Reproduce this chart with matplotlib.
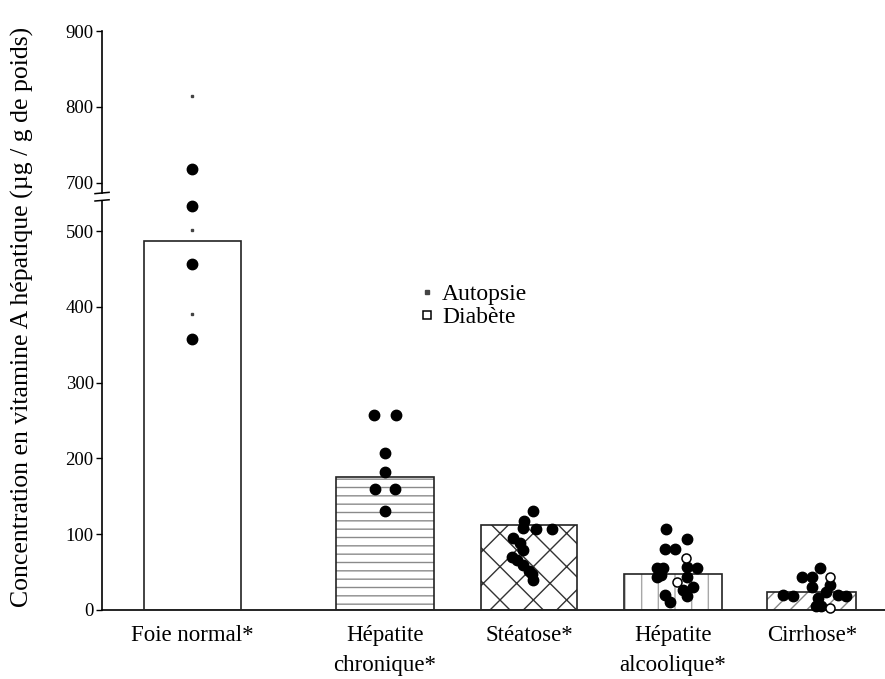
import matplotlib
matplotlib.use('Agg')
import matplotlib.pyplot as plt
from matplotlib.lines import Line2D

plt.rcParams['font.family'] = ['Liberation Serif', 'DejaVu Serif']
plt.rcParams['hatch.linewidth'] = 1.0

# --- data ---
categories = ['Foie normal*', 'Hépatite\nchronique*', 'Stéatose*',
              'Hépatite\nalcoolique*', 'Cirrhose*']
means = [487, 175, 112, 48, 24]

# big filled dots
dots_val = [
    [718, 533, 456, 357],
    [257, 257, 207, 182, 159, 159, 130],
    [131, 118, 108, 107, 107, 95, 88, 79, 70, 66, 60, 52, 47, 40],
    [107, 94, 81, 81, 55, 55, 57, 56, 44, 46, 44, 31, 26, 20, 18, 11],
    [56, 44, 44, 31, 33, 24, 20, 18, 16, 20, 18, 5, 5],
]
dots_dx = [
    [0, 0, 0, 0],
    [-0.075, 0.075, 0, 0, -0.07, 0.07, 0],
    [0.03, -0.035, -0.04, 0.05, 0.16, -0.11, -0.06, -0.04, -0.12, -0.08, -0.04, 0.0, 0.02, 0.03],
    [-0.045, 0.095, -0.055, 0.015, -0.11, -0.07, 0.095, 0.165, -0.11, -0.08, 0.095, 0.14, 0.07, -0.055, 0.095, -0.02],
    [0.055, -0.07, 0.0, 0.0, 0.125, 0.1, -0.2, -0.13, 0.04, 0.18, 0.24, 0.03, 0.065],
]
# small dots (autopsie)
autopsie_val = [[815, 501, 390], [], [], [], []]
# open circles (diabete)
diabete_val = [[], [], [], [69, 37], [44, 3]]
diabete_dx = [[], [], [], [0.09, 0.025], [0.125, 0.125]]

# layout
x_pos = [0, 1.337, 2.337, 3.337, 4.302]
widths = [0.674, 0.68, 0.67, 0.68, 0.62]
hatches = [None, '--', 'x', '|', '//']
hatch_cols = ['k', '#8a8a8a', '#333333', '#a8a8a8', '#888888']
lo_top = 539.6
hi_bottom = 686.8

fig = plt.figure(figsize=(8.85, 6.79), dpi=100)
ax_lo = fig.add_axes([0.1153, 69 / 679, 0.8847, 409 / 679])
ax_hi = fig.add_axes([0.1153, 486 / 679, 0.8847, 162 / 679])

for ax in (ax_lo, ax_hi):
    ax.set_xlim(-0.628, 4.81)
    for s in ('top', 'right'):
        ax.spines[s].set_visible(False)
    ax.spines['left'].set_linewidth(1.2)
    ax.tick_params(axis='y', direction='out', length=4, width=1, labelsize=13.5, pad=2)

ax_lo.set_ylim(0, lo_top)
ax_hi.set_ylim(hi_bottom, 900)
ax_lo.set_yticks([0, 100, 200, 300, 400, 500])
ax_hi.set_yticks([700, 800, 900])
ax_hi.spines['bottom'].set_visible(False)
ax_hi.set_xticks([])
ax_lo.spines['bottom'].set_linewidth(1.2)

# bars: hatch first, outline on top
for i in range(len(categories)):
    if hatches[i]:
        ax_lo.bar(x_pos[i], means[i], width=widths[i], color='white',
                  edgecolor=hatch_cols[i], hatch=hatches[i], linewidth=0, zorder=2)
    ax_lo.bar(x_pos[i], means[i], width=widths[i], fill=False,
              edgecolor='#222222', linewidth=1.2, zorder=3)

ax_lo.set_xticks(x_pos)
ax_lo.set_xticklabels(categories, fontsize=16.5, linespacing=1.55)
ax_lo.tick_params(axis='x', length=0, pad=11)


def put(vals, dxs, i, **kw):
    for v, d in zip(vals, dxs):
        ax = ax_hi if v > lo_top else ax_lo
        ax.plot(x_pos[i] + d, v, ls='', clip_on=False, zorder=5, **kw)


for i in range(len(categories)):
    put(dots_val[i], dots_dx[i], i, marker='o', color='black', markersize=7.5)
    put(autopsie_val[i], [0] * len(autopsie_val[i]), i, marker='s', color='#444444', markersize=2)
    put(diabete_val[i], diabete_dx[i], i, marker='o', mfc='white', mec='black',
        markersize=6.5, mew=1.1)

# axis break marks
ax_hi.plot([-0.009, 0.009], [-0.004, 0.004], transform=ax_hi.transAxes,
           color='k', lw=1.1, clip_on=False)
ax_lo.plot([-0.009, 0.009], [1.0, 1.003], transform=ax_lo.transAxes,
           color='k', lw=1.1, clip_on=False)

fig.text(22 / 885, 1 - 317 / 679,
         'Concentration en vitamine A hépatique (µg / g de poids)',
         rotation=90, ha='center', va='center', fontsize=18.5)

handles = [Line2D([], [], ls='', marker='s', color='#444444', markersize=3),
           Line2D([], [], ls='', marker='s', mfc='white', mec='black', markersize=6, mew=1.1)]
fig.legend(handles, ['Autopsie', 'Diabète'], loc='upper left',
           bbox_to_anchor=(408 / 885, 1 - 272 / 679), frameon=False, fontsize=17,
           handlelength=0.6, handletextpad=0.35, labelspacing=0.05, borderpad=0)

fig.savefig('out.png', dpi=100)
